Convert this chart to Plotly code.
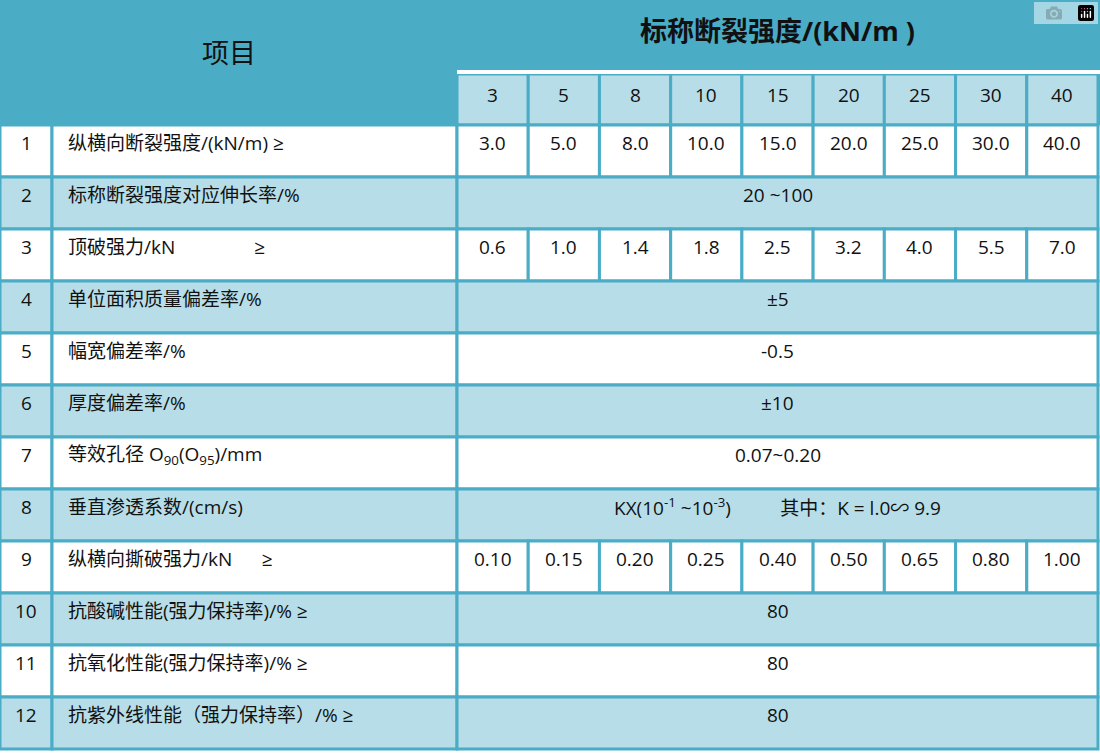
import plotly.graph_objects as go

strengths = ["3", "5", "8", "10", "15", "20", "25", "30", "40"]
row_nums = [str(i) for i in range(1, 13)]
row_items = ["纵横向断裂强度/(kN/m) ≥", "标称断裂强度对应伸长率/%", "顶破强力/kN                ≥",
             "单位面积质量偏差率/%", "幅宽偏差率/%", "厚度偏差率/%",
             "等效孔径 O<sub>90</sub>(O<sub>95</sub>)/mm", "垂直渗透系数/(cm/s)",
             "纵横向撕破强力/kN      ≥", "抗酸碱性能(强力保持率)/% ≥",
             "抗氧化性能(强力保持率)/% ≥", "抗紫外线性能（强力保持率）/% ≥"]
row_values = [
    ["3.0", "5.0", "8.0", "10.0", "15.0", "20.0", "25.0", "30.0", "40.0"],
    "20 ~100",
    ["0.6", "1.0", "1.4", "1.8", "2.5", "3.2", "4.0", "5.5", "7.0"],
    "±5", "-0.5", "±10", "0.07~0.20",
    "KX(10<sup>-1</sup> ~10<sup>-3</sup>)          其中：K = l.0∽ 9.9",
    ["0.10", "0.15", "0.20", "0.25", "0.40", "0.50", "0.65", "0.80", "1.00"],
    "80", "80", "80",
]
header_left = "项目"
header_title = "标称断裂强度/(kN/m )"

DARK = "#4BACC6"; LIGHT = "#B7DEE8"; LINE = "#4BACC6"
FONT = "Open Sans, Noto Sans CJK SC"
x_num, x_item, x_val, x_end = 0, 52, 457, 1098
col_w = (x_end - x_val) / len(strengths)
y_sub, y_body, row_h = 72, 125, 52

shapes, ann = [], []
def rect(x0, y0, x1, y1, fill, lw=3, lc=LINE):
    shapes.append(dict(type="rect", x0=x0, y0=y0, x1=x1, y1=y1, fillcolor=fill,
                       line=dict(color=lc, width=lw), layer="below"))
def text(x, y, s, size=19, color="#111", bold=False, xanchor="center"):
    ann.append(dict(x=x, y=y, text=f"<b>{s}</b>" if bold else s, showarrow=False,
                    xanchor=xanchor, yanchor="middle",
                    font=dict(family=FONT, size=size, color=color)))

# header
rect(x_num, 0, x_end + 2, y_body, DARK, lw=0)
shapes.append(dict(type="line", x0=x_val, x1=x_end + 2, y0=y_sub, y1=y_sub, line=dict(color="white", width=4)))
text((x_num + x_val) / 2, 52, header_left, size=27)
text((x_val + x_end) / 2, 30, header_title, size=27, bold=True)
for i, s in enumerate(strengths):
    x0 = x_val + i * col_w
    rect(x0, y_sub + 2, x0 + col_w, y_body, LIGHT)
    text(x0 + col_w / 2, 95, s)

for r, (n, item, vals) in enumerate(zip(row_nums, row_items, row_values)):
    y0 = y_body + r * row_h; y1 = y0 + row_h
    fill = "white" if r % 2 == 0 else LIGHT
    ty = y0 + 18
    rect(x_num, y0, x_item, y1, fill)
    rect(x_item, y0, x_val, y1, fill)
    text((x_num + x_item) / 2, ty, n)
    text(x_item + 14, ty, item, xanchor="left")
    if isinstance(vals, list):
        for i, v in enumerate(vals):
            x0 = x_val + i * col_w
            rect(x0, y0, x0 + col_w, y1, fill)
            text(x0 + col_w / 2, ty, v)
    else:
        rect(x_val, y0, x_end, y1, fill)
        text((x_val + x_end) / 2, ty, vals)

fig = go.Figure()
fig.update_layout(width=1100, height=753, margin=dict(l=0, r=0, t=0, b=0),
                  paper_bgcolor="white", plot_bgcolor="white",
                  xaxis=dict(range=[0, 1100], visible=False, fixedrange=True),
                  yaxis=dict(range=[753, 0], visible=False, fixedrange=True),
                  shapes=shapes, annotations=ann, showlegend=False)
fig.write_html("out.html", post_script="document.body.style.margin='0';document.body.style.overflow='hidden';")
